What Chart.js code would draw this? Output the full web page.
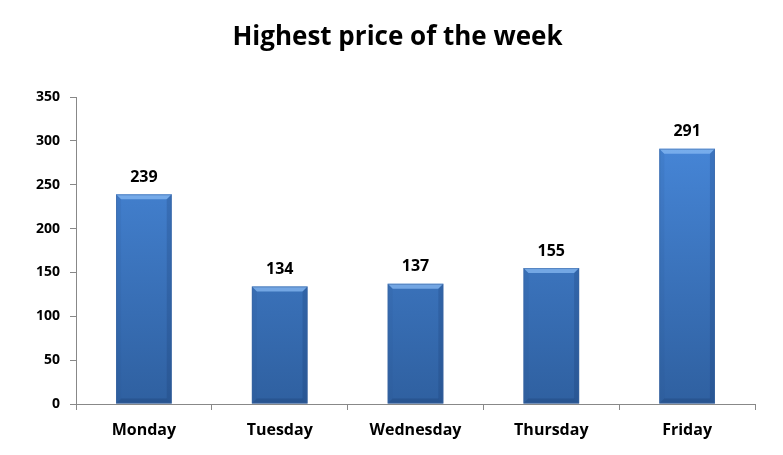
<!DOCTYPE html>
<html>
<head>
<meta charset="utf-8">
<script src="https://cdn.jsdelivr.net/npm/chart.js@4/dist/chart.umd.min.js"></script>
<style>
html,body{margin:0;padding:0;background:#fff;}
#wrap{width:783px;height:455px;}
</style>
</head>
<body>
<div id="wrap"><canvas id="c" width="783" height="455"></canvas></div>
<script>
const categories = ["Monday", "Tuesday", "Wednesday", "Thursday", "Friday"];
const prices = [239, 134, 137, 155, 291];
const titleText = "Highest price of the week";
const yMax = 350;
const yStep = 50;

const FONT = "'Open Sans', sans-serif";

const titlePlugin = {
  id: 'topTitle',
  afterDraw(chart) {
    const ctx = chart.ctx;
    ctx.save();
    ctx.font = "bold 26px " + FONT;
    ctx.fillStyle = '#000';
    ctx.textAlign = 'center';
    ctx.textBaseline = 'middle';
    ctx.fillText(titleText, chart.width / 2 + 6, 38);
    ctx.restore();
  }
};

const bevelPlugin = {
  id: 'bevel',
  afterDatasetsDraw(chart) {
    const ctx = chart.ctx;
    const meta = chart.getDatasetMeta(0);
    meta.data.forEach((bar) => {
      const l = bar.x - bar.width / 2, r = bar.x + bar.width / 2;
      const t = bar.y, b = bar.base;
      const s = 5;
      ctx.save();
      ctx.beginPath();
      ctx.moveTo(l, t); ctx.lineTo(r, t); ctx.lineTo(r - s, t + s); ctx.lineTo(l + s, t + s); ctx.closePath();
      ctx.fillStyle = 'rgba(140,190,245,0.7)';
      ctx.fill();
      ctx.beginPath();
      ctx.moveTo(l, t); ctx.lineTo(l + s, t + s); ctx.lineTo(l + s, b - s); ctx.lineTo(l, b); ctx.closePath();
      ctx.fillStyle = 'rgba(40,80,140,0.12)';
      ctx.fill();
      ctx.beginPath();
      ctx.moveTo(r, t); ctx.lineTo(r - s, t + s); ctx.lineTo(r - s, b - s); ctx.lineTo(r, b); ctx.closePath();
      ctx.fillStyle = 'rgba(20,50,100,0.2)';
      ctx.fill();
      ctx.beginPath();
      ctx.moveTo(l, b); ctx.lineTo(r, b); ctx.lineTo(r - s, b - s); ctx.lineTo(l + s, b - s); ctx.closePath();
      ctx.fillStyle = 'rgba(20,50,100,0.25)';
      ctx.fill();
      ctx.strokeStyle = 'rgba(60,100,160,0.5)';
      ctx.lineWidth = 1;
      ctx.strokeRect(l + 0.5, t + 0.5, bar.width - 1, b - t - 1);
      ctx.restore();
    });
  }
};

const labelPlugin = {
  id: 'valueLabels',
  afterDatasetsDraw(chart) {
    const ctx = chart.ctx;
    const meta = chart.getDatasetMeta(0);
    ctx.save();
    ctx.font = "bold 16px " + FONT;
    ctx.fillStyle = '#000';
    ctx.textAlign = 'center';
    ctx.textBaseline = 'bottom';
    meta.data.forEach((bar, i) => {
      ctx.fillText(String(prices[i]), bar.x, bar.y - 9);
    });
    ctx.restore();
  }
};

const ctx = document.getElementById('c').getContext('2d');
new Chart(ctx, {
  type: 'bar',
  data: {
    labels: categories,
    datasets: [{
      data: prices,
      categoryPercentage: 1,
      barPercentage: 0.41,
      borderWidth: 0,
      backgroundColor: (c) => {
        const area = c.chart.chartArea;
        if (!area) return '#3d7cc9';
        const g = c.chart.ctx.createLinearGradient(0, area.top, 0, area.bottom);
        g.addColorStop(0, '#4a8ce0');
        g.addColorStop(1, '#2f60a0');
        return g;
      }
    }]
  },
  options: {
    responsive: false,
    animation: false,
    layout: { padding: { left: 0, right: 28, top: 97, bottom: 0 } },
    plugins: {
      legend: { display: false },
      tooltip: { enabled: false },
      title: { display: false }
    },
    scales: {
      x: {
        offset: true,
        grid: { display: true, drawOnChartArea: false, offset: true, tickLength: 6, color: '#888' },
        border: { display: true, color: '#888', width: 1 },
        ticks: { color: '#000', font: { family: FONT, size: 16, weight: 'bold' }, padding: 11 },
        afterFit: (s) => { s.height = 51; }
      },
      y: {
        min: 0, max: yMax,
        grid: { display: true, drawOnChartArea: false, tickLength: 6, color: '#888' },
        border: { display: true, color: '#888', width: 1 },
        ticks: { stepSize: yStep, color: '#000', font: { family: FONT, size: 14, weight: 'bold' }, padding: 10 },
        afterFit: (s) => { s.width = 76; }
      }
    }
  },
  plugins: [bevelPlugin, labelPlugin, titlePlugin]
});
</script>
</body>
</html>
